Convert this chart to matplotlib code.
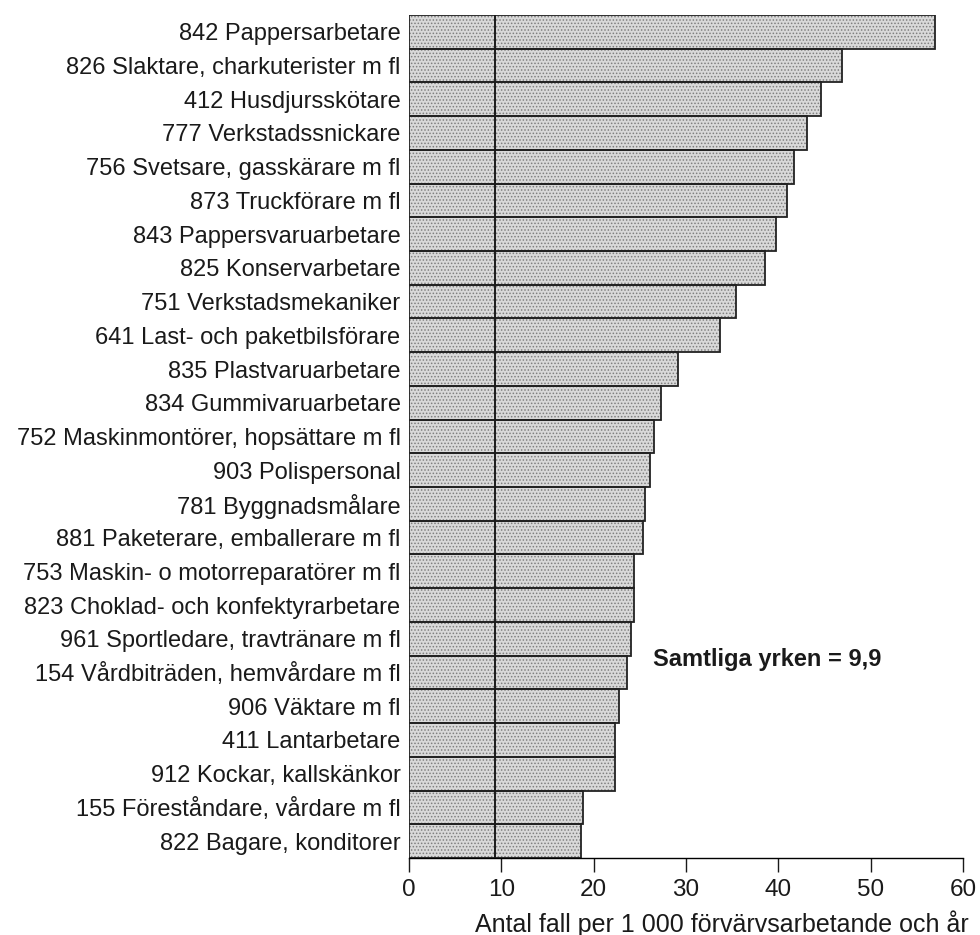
import numpy as np
import matplotlib
matplotlib.use('Agg')
import matplotlib.pyplot as plt

# yrken (uppifrån och ned) och antal fall per 1 000 förvärvsarbetande och år
yrken = [
    '842 Pappersarbetare',
    '826 Slaktare, charkuterister m fl',
    '412 Husdjursskötare',
    '777 Verkstadssnickare',
    '756 Svetsare, gasskärare m fl',
    '873 Truckförare m fl',
    '843 Pappersvaruarbetare',
    '825 Konservarbetare',
    '751 Verkstadsmekaniker',
    '641 Last- och paketbilsförare',
    '835 Plastvaruarbetare',
    '834 Gummivaruarbetare',
    '752 Maskinmontörer, hopsättare m fl',
    '903 Polispersonal',
    '781 Byggnadsmålare',
    '881 Paketerare, emballerare m fl',
    '753 Maskin- o motorreparatörer m fl',
    '823 Choklad- och konfektyrarbetare',
    '961 Sportledare, travtränare m fl',
    '154 Vårdbiträden, hemvårdare m fl',
    '906 Väktare m fl',
    '411 Lantarbetare',
    '912 Kockar, kallskänkor',
    '155 Föreståndare, vårdare m fl',
    '822 Bagare, konditorer',
]
fall = [57.0, 46.9, 44.6, 43.1, 41.7, 40.9, 39.7, 38.6, 35.4, 33.7,
        29.1, 27.3, 26.5, 26.1, 25.6, 25.3, 24.4, 24.4, 24.1, 23.6,
        22.7, 22.3, 22.3, 18.9, 18.6]
samtliga = 9.3          # linjens läge i bilden (texten säger 9,9)
xticks = [0, 10, 20, 30, 40, 50, 60]

plt.rcParams['font.family'] = ['Liberation Sans', 'DejaVu Sans']
plt.rcParams['hatch.linewidth'] = 0.7
plt.rcParams['hatch.color'] = '#7f7f7f'

fig = plt.figure(figsize=(9.8, 9.35), dpi=100)
ax = fig.add_axes([0.4173, 0.0824, 0.5653, 0.9016])

y = np.arange(len(yrken))
# prickig fyllning först, sedan svarta kanter ovanpå
ax.barh(y, fall, height=1.0, color='#d9d9d9', hatch='.....', edgecolor='#7f7f7f', linewidth=0)
ax.barh(y, fall, height=1.0, fill=False, edgecolor='#222222', linewidth=1.3)
ax.axvline(samtliga, color='#1a1a1a', linewidth=1.4, zorder=3)

ax.set_xlim(0, 60)
ax.set_ylim(len(yrken) - 0.5, -0.5)
ax.set_yticks(y)
ax.set_yticklabels(yrken, fontsize=17, color='#1a1a1a')
ax.set_xticks(xticks)
ax.set_xticklabels([str(t) for t in xticks], fontsize=17.5, color='#1a1a1a')
ax.tick_params(axis='y', length=0, pad=6)
ax.tick_params(axis='x', length=10, width=1.0, pad=5, color='#1a1a1a')

for s in ['top', 'right', 'left']:
    ax.spines[s].set_visible(False)
ax.spines['bottom'].set_linewidth(1.0)

ax.text(26.4, 18.6, 'Samtliga yrken = 9,9', fontsize=17, fontweight='bold',
        va='center', ha='left', color='#1a1a1a')
ax.set_xlabel('Antal fall per 1 000 förvärvsarbetande och år', fontsize=18, color='#1a1a1a')
ax.xaxis.set_label_coords(0.565, -0.062)

fig.savefig('out.png', dpi=100)
